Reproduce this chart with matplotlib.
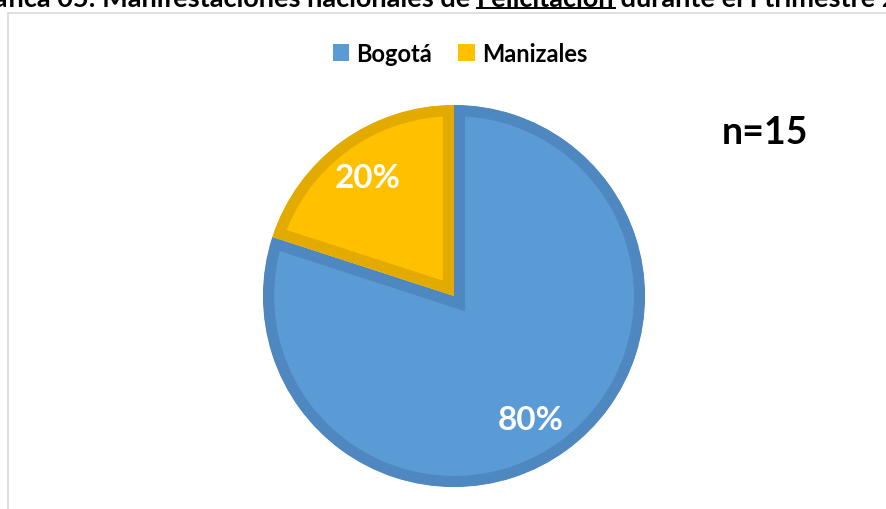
import matplotlib
matplotlib.use("Agg")
import numpy as np
import matplotlib.pyplot as plt
from matplotlib.patches import Rectangle
from matplotlib.lines import Line2D

plt.rcParams['font.family'] = ['Lato', 'DejaVu Sans']

# data
ciudades = ['Bogotá', 'Manizales']
valores = [80, 20]
colores = ['#5B9BD5', '#FFC000']
bordes = ['#4F88C0', '#E3AB00']
total_n = 15

titulo_a = 'Gráfica 05: Manifestaciones nacionales de '
titulo_b = 'Felicitación'
titulo_c = ' durante el I trimestre 2019'

W, H = 886, 510
fig = plt.figure(figsize=(W / 100, H / 100), dpi=100)
ax = fig.add_axes([0, 0, 1, 1])

# chart area frame, runs off the right and bottom edge
ax.add_patch(Rectangle((8, -50), 1100, H - 14 + 50, fill=False,
                       edgecolor='#D9D9D9', linewidth=1.2, zorder=0))

cx, cy, R = 454, H - 297, 191
wedges, texts, autotexts = ax.pie(
    valores, startangle=90, counterclock=False, center=(cx, cy), radius=R,
    colors=colores, autopct='%.0f%%', pctdistance=0.77,
    wedgeprops=dict(linewidth=16, joinstyle='miter'),
    textprops=dict(color='white', fontsize=24, fontweight='bold'))
for w, ec in zip(wedges, bordes):
    w.set_edgecolor(ec)
    w.set_clip_on(True)
    w.set_clip_path(w)  # keep only the inner half of the border

# the big slice's label sits a bit lower than the wedge middle
ang = np.deg2rad(-58)
autotexts[0].set_position((cx + 0.76 * R * np.cos(ang), cy + 0.76 * R * np.sin(ang)))

ax.set_xlim(0, W)
ax.set_ylim(0, H)
ax.set_aspect('auto')
ax.axis('off')

# legend
handles = [Rectangle((0, 0), 1, 1, facecolor=c, edgecolor='none') for c in colores]
ax.legend(handles, ciudades, loc='center', bbox_to_anchor=(460 / W, 1 - 54 / H),
          ncol=2, frameon=False, handlelength=0.7, handleheight=0.7,
          handletextpad=0.3, columnspacing=1.1,
          prop=dict(size=17, weight='bold'))

ax.text(765, H - 133, f'n={total_n}', fontsize=27, fontweight='bold',
        ha='center', va='center', color='black')

# title, partly cut off at the top; the underlined word starts at x=477
fs = 19.5
base = 1 - 7 / H
x_word = 477 / W
t1 = fig.text(x_word, base, titulo_a, fontsize=fs, fontweight='bold',
              ha='right', va='baseline')
t2 = fig.text(x_word, base, titulo_b, fontsize=fs, fontweight='bold',
              ha='left', va='baseline')
fig.canvas.draw()
r = fig.canvas.get_renderer()
e2 = t2.get_window_extent(r)
fig.text(e2.x1 / W, base, titulo_c, fontsize=fs, fontweight='bold',
         ha='left', va='baseline')
yl = 1 - 9 / H
fig.add_artist(Line2D([e2.x0 / W, e2.x1 / W], [yl, yl], color='black',
                      linewidth=1.4, transform=fig.transFigure))

fig.savefig('out.png', dpi=100)
